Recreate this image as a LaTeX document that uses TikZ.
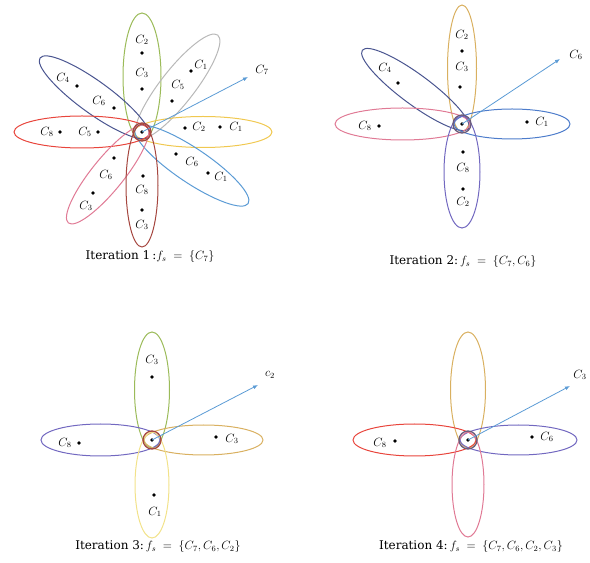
\documentclass[tikz,border=0pt]{standalone}
\usepackage{amsmath}
\usepackage{fontspec}
\setmainfont{DejaVu Serif}
\usepackage{tikz}
\usetikzlibrary{arrows.meta,positioning,calc}
\definecolor{flgreen}{HTML}{9BBB59}
\definecolor{flgray}{HTML}{B8B8B8}
\definecolor{flyellow}{HTML}{F0C850}
\definecolor{flsky}{HTML}{5B9BD5}
\definecolor{flnavy}{HTML}{4A5590}
\definecolor{flred}{HTML}{E8453C}
\definecolor{flpink}{HTML}{E07A95}
\definecolor{flbrown}{HTML}{A5463F}
\definecolor{flgold}{HTML}{D9B060}
\definecolor{flpurple}{HTML}{7268C0}
\definecolor{flblue}{HTML}{4D7CCB}
\definecolor{flpale}{HTML}{F2E28A}
\definecolor{flhub}{HTML}{6A5A7A}
\tikzset{
  petal/.style={line width=1pt},
  hub/.style={circle,draw=#1,line width=1.3pt,minimum size=18pt,inner sep=0pt},
  pt/.style={circle,fill=black,inner sep=0pt,minimum size=3.8pt},
  lab/.style={inner sep=1pt,font=\fontsize{11.5}{13}\selectfont},
  ar/.style={-{Latex[length=5pt,width=4pt]},draw=flsky,line width=0.8pt},
  caption/.style={inner sep=1pt,font=\fontsize{12}{14}\selectfont},
}

\begin{document}
\begin{tikzpicture}[x=1pt,y=1pt]
  \useasboundingbox (0,0) rectangle (590,563);
  % iteration 1
  \begin{scope}[shift={(142,431)}]
    \foreach \ang/\len/\wd/\col in {90/119/19/flgreen,52/123/17/flgray,0/130/15.5/flyellow,-34/128/17/flsky,
      144/126/16/flnavy,180/128/16/flred,231/117/16/flpink,270/115/16/flbrown}
      \draw[petal,draw=\col,rotate=\ang] ({(\len-8)/2},0) ellipse [x radius={(\len+8)/2},y radius=\wd];
  \end{scope}
  \node[hub=flbrown] (h1) at (142,431) {};
  \node[pt] (o1) at (142,431) {};
  \coordinate (t1) at (248,486);
  \draw[ar] (o1.center) -- (t1);
  \node[lab] (k1) at (262,493) {$C_{7}$};
  \node[lab] (a1) at (142,523) {$C_{2}$}; \node[pt] (p1) at (142,510) {};
  \node[lab] (a2) at (142,490) {$C_{3}$}; \node[pt] (p2) at (142,474) {};
  \node[lab] (a3) at (201,498) {$C_{1}$}; \node[pt] (p3) at (191,492) {};
  \node[lab] (a4) at (178,478) {$C_{5}$}; \node[pt] (p4) at (172,462) {};
  \node[pt] (p5) at (185,435) {}; \node[lab] (a5) at (199,436) {$C_{2}$};
  \node[pt] (p6) at (220,436) {}; \node[lab] (a6) at (236,436) {$C_{1}$};
  \node[pt] (p7) at (176,409) {}; \node[lab] (a7) at (192,401) {$C_{6}$};
  \node[pt] (p8) at (208,390) {}; \node[lab] (a8) at (221,386) {$C_{1}$};
  \node[lab] (a9) at (63,485) {$C_{4}$}; \node[pt] (p9) at (77,477) {};
  \node[lab] (a10) at (99,462) {$C_{6}$}; \node[pt] (p10) at (114,455) {};
  \node[lab] (a11) at (47,431) {$C_{8}$}; \node[pt] (p11) at (60,431) {};
  \node[lab] (a12) at (85,431) {$C_{5}$}; \node[pt] (p12) at (98,431) {};
  \node[pt] (p13) at (114,405) {}; \node[lab] (a13) at (106,388) {$C_{6}$};
  \node[pt] (p14) at (93,370) {}; \node[lab] (a14) at (86,357) {$C_{3}$};
  \node[pt] (p15) at (143,387) {}; \node[lab] (a15) at (142,373) {$C_{8}$};
  \node[pt] (p16) at (142,353) {}; \node[lab] (a16) at (142,338) {$C_{3}$};
  \node[caption] (cap1) at (150,306) {Iteration 1\,:$f_s\;=\;\{C_7\}$};
  % iteration 2
  \begin{scope}[shift={(462,439)}]
    \foreach \ang/\len/\wd/\col in {90/119/14.5/flgold,143.5/124/15/flnavy,180/127/16/flpink,
      0/108/15/flblue,270/104/18/flpurple}
      \draw[petal,draw=\col,rotate=\ang] ({(\len-8)/2},0) ellipse [x radius={(\len+8)/2},y radius=\wd];
  \end{scope}
  \node[hub=flhub] (h2) at (462,439) {};
  \node[pt] (o2) at (462,439) {};
  \coordinate (t2) at (560,504);
  \draw[ar] (o2.center) -- (t2);
  \node[lab] (k2) at (576,508) {$C_{6}$};
  \node[lab] (b1) at (462,528) {$C_{2}$}; \node[pt] (q1) at (462,512) {};
  \node[lab] (b2) at (462,496) {$C_{3}$}; \node[pt] (q2) at (460,476) {};
  \node[lab] (b3) at (385,495) {$C_{4}$}; \node[pt] (q3) at (398,480) {};
  \node[lab] (b4) at (365,437) {$C_{8}$}; \node[pt] (q4) at (379,437) {};
  \node[pt] (q5) at (527,441) {}; \node[lab] (b5) at (542,441) {$C_{1}$};
  \node[pt] (q6) at (463,411) {}; \node[lab] (b6) at (463,395) {$C_{8}$};
  \node[pt] (q7) at (463,374) {}; \node[lab] (b7) at (463,361) {$C_{2}$};
  \node[caption] (cap2) at (463,301) {Iteration 2:\,$f_s\;=\;\{C_7,C_6\}$};
  % iteration 3
  \begin{scope}[shift={(152,123)}]
    \foreach \ang/\len/\wd/\col in {90/108/17.5/flgreen,180/111/16/flpurple,0/111/15/flgold,270/98/17/flpale}
      \draw[petal,draw=\col,rotate=\ang] ({(\len-8)/2},0) ellipse [x radius={(\len+8)/2},y radius=\wd];
  \end{scope}
  \node[hub=flbrown] (h3) at (152,123) {};
  \node[pt] (o3) at (152,123) {};
  \coordinate (t3) at (258,178);
  \draw[ar] (o3.center) -- (t3);
  \node[lab] (k3) at (270,188) {$c_{2}$};
  \node[lab] (e1) at (152,203) {$C_{3}$}; \node[pt] (r1) at (152,186) {};
  \node[lab] (e2) at (65,120) {$C_{8}$}; \node[pt] (r2) at (79,120) {};
  \node[pt] (r3) at (216,126) {}; \node[lab] (e3) at (232,124) {$C_{3}$};
  \node[pt] (r4) at (154,68) {}; \node[lab] (e4) at (155,51) {$C_{1}$};
  \node[caption] (cap3) at (158,16) {Iteration 3:\,$f_s\;=\;\{C_7,C_6,C_2\}$};
  % iteration 4
  \begin{scope}[shift={(468,123)}]
    \foreach \ang/\len/\wd/\col in {90/108/17.5/flgold,180/115/16/flred,0/109/15/flpurple,270/97/16/flpink}
      \draw[petal,draw=\col,rotate=\ang] ({(\len-8)/2},0) ellipse [x radius={(\len+8)/2},y radius=\wd];
  \end{scope}
  \node[hub=flhub] (h4) at (468,123) {};
  \node[pt] (o4) at (468,123) {};
  \coordinate (t4) at (570,177);
  \draw[ar] (o4.center) -- (t4);
  \node[lab] (k4) at (580,188) {$C_{3}$};
  \node[lab] (g1) at (380,120) {$C_{8}$}; \node[pt] (s1) at (395,122) {};
  \node[pt] (s2) at (532,126) {}; \node[lab] (g2) at (547,126) {$C_{6}$};
  \node[caption] (cap4) at (471,16) {Iteration 4:\,$f_s\;=\;\{C_7,C_6,C_2,C_3\}$};
\end{tikzpicture}
\end{document}
